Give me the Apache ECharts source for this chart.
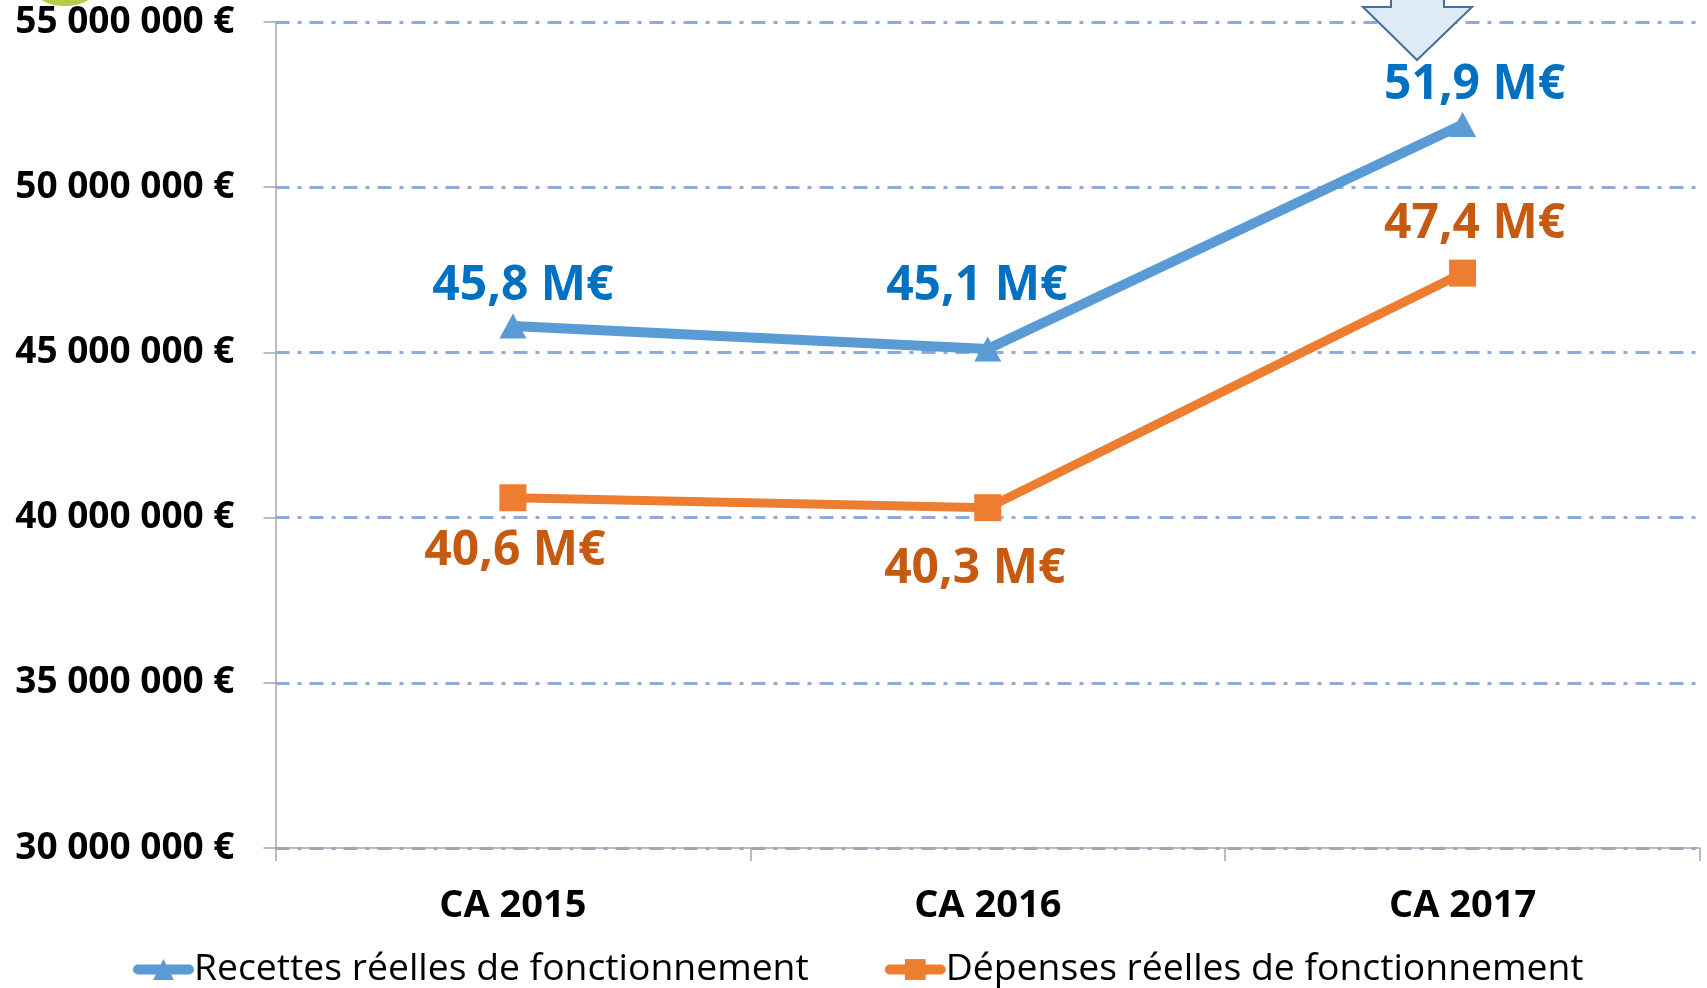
<!DOCTYPE html>
<html>
<head>
<meta charset="utf-8">
<script src="https://cdn.jsdelivr.net/npm/echarts@6/dist/echarts.min.js"></script>
<style>
html,body{margin:0;padding:0;background:#fff;}
#chart{width:1707px;height:988px;}
</style>
</head>
<body>
<div id="chart"></div>
<script>
// ---- data ----
const categories = ['CA 2015', 'CA 2016', 'CA 2017'];
const recettes = [45800000, 45100000, 51900000];
const depenses = [40600000, 40300000, 47400000];
const seriesNames = ['Recettes réelles de fonctionnement', 'Dépenses réelles de fonctionnement'];
const yMin = 30000000, yMax = 55000000, yInterval = 5000000;

// ---- styles (label placement per point, in pixels) ----
const recettesLabelOffsets = [[10, -40], [-11, -63], [12, -39]];
const depensesLabelOffsets = [[2, 54], [-13, 62], [12, -49]];

const FONT = '"Open Sans", "DejaVu Sans", sans-serif';

function fmtM(v) { return (v / 1e6).toFixed(1).replace('.', ',') + ' M€'; }
function fmtAxis(v) { return String(v).replace(/\B(?=(\d{3})+(?!\d))/g, ' ') + ' €'; }

function buildData(values, offsets, color) {
  return values.map((v, i) => ({
    value: v,
    label: {
      show: true, position: 'inside', offset: offsets[i],
      formatter: p => fmtM(p.value),
      color: color, fontFamily: FONT, fontWeight: 'bold', fontSize: 48,
      align: 'center', verticalAlign: 'middle'
    }
  }));
}

const chart = echarts.init(document.getElementById('chart'), null, {renderer: 'canvas'});
chart.setOption({
  animation: false,
  backgroundColor: '#fff',
  grid: {left: 275.5, right: 7, top: 22, bottom: 140, containLabel: false},
  legend: {
    left: 128, top: 946,
    itemWidth: 51, itemHeight: 26, itemGap: 76,
    lineStyle: {width: 10, cap: 'round'},
    textStyle: {fontFamily: FONT, fontSize: 37.3, color: '#000'},
    data: seriesNames
  },
  xAxis: {
    type: 'category', data: categories, boundaryGap: true,
    axisLine: {lineStyle: {color: '#A6A6A6', width: 1.5}},
    axisTick: {show: true, length: 13, lineStyle: {color: '#A6A6A6', width: 1.5}},
    axisLabel: {fontFamily: FONT, fontWeight: 'bold', fontSize: 38, color: '#000', margin: 39}
  },
  yAxis: {
    type: 'value', min: yMin, max: yMax, interval: yInterval,
    axisLine: {show: true, lineStyle: {color: '#A6A6A6', width: 1.5}},
    axisTick: {show: true, length: 12, lineStyle: {color: '#A6A6A6', width: 1.5}},
    axisLabel: {fontFamily: FONT, fontWeight: 'bold', fontSize: 37, color: '#000', margin: 41, formatter: fmtAxis},
    splitLine: {show: true, lineStyle: {color: '#8FAADC', width: 3, type: [14, 8, 4, 8]}}
  },
  series: [
    {
      name: seriesNames[0], type: 'line',
      data: buildData(recettes, recettesLabelOffsets, '#0070C0'),
      symbol: 'triangle', symbolSize: [27, 25],
      lineStyle: {color: '#5B9BD5', width: 10},
      itemStyle: {color: '#5B9BD5'},
      z: 3
    },
    {
      name: seriesNames[1], type: 'line',
      data: buildData(depenses, depensesLabelOffsets, '#C55A11'),
      symbol: 'rect', symbolSize: 27,
      lineStyle: {color: '#ED7D31', width: 9},
      itemStyle: {color: '#ED7D31'},
      z: 2
    }
  ],
  graphic: [
    {type: 'ellipse', shape: {cx: 65, cy: -14, rx: 33, ry: 20}, style: {fill: '#B5CC48'}, z: 10},
    {type: 'polygon', shape: {points: [[1391,-5],[1444,-5],[1444,7],[1472,7],[1417,60],[1363,7],[1391,7]]},
     style: {fill: '#DEEBF7', stroke: '#41719C', lineWidth: 2}, z: 10}
  ]
});
</script>
</body>
</html>
